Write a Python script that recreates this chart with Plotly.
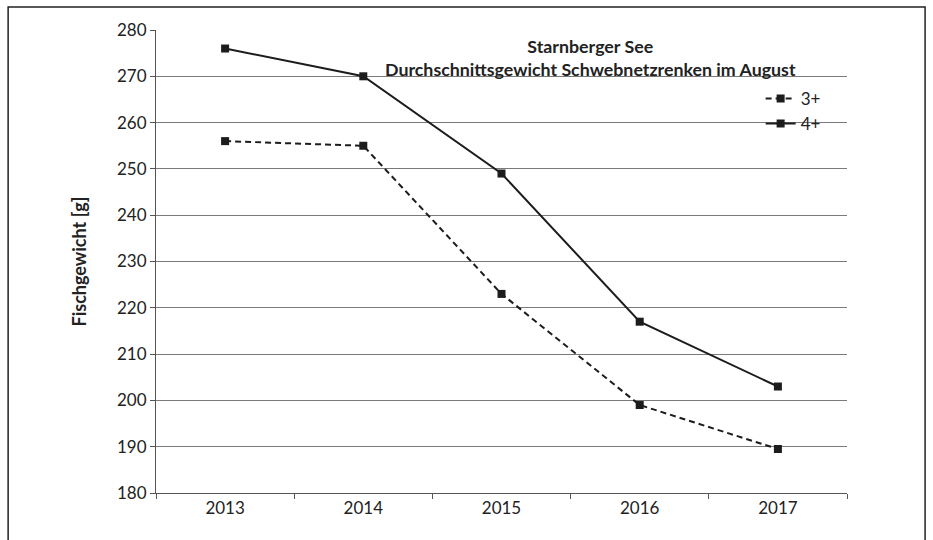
import plotly.graph_objects as go

# Average weight of pelagic-net whitefish (Schwebnetzrenken), Starnberger See, August
years = ["2013", "2014", "2015", "2016", "2017"]
weight_3plus = [256, 255, 223, 199, 189.5]
weight_4plus = [276, 270, 249, 217, 203]

ink = "#1c1c1c"
font_family = "Lato, Carlito, 'Open Sans', sans-serif"

fig = go.Figure()
fig.add_trace(go.Scatter(
    x=years, y=weight_3plus, name="3+", mode="lines+markers",
    line=dict(color=ink, width=2, dash="6px,4px"),
    marker=dict(symbol="square", size=8, color=ink),
))
fig.add_trace(go.Scatter(
    x=years, y=weight_4plus, name="4+", mode="lines+markers",
    line=dict(color=ink, width=2),
    marker=dict(symbol="square", size=8, color=ink),
))

fig.update_layout(
    width=933, height=540,
    margin=dict(l=156, r=86, t=30, b=47),
    paper_bgcolor="white", plot_bgcolor="white",
    font=dict(family=font_family, size=17, color="#222"),
    showlegend=True,
    legend=dict(
        x=0.875, y=0.89, xanchor="left", yanchor="top",
        bgcolor="rgba(0,0,0,0)", font=dict(size=17),
        itemwidth=30, tracegroupgap=0,
    ),
    annotations=[dict(
        text="<b>Starnberger See</b><br><b>Durchschnittsgewicht Schwebnetzrenken im August</b>",
        xref="paper", yref="paper", x=0.6295, y=0.993,
        xanchor="center", yanchor="top", showarrow=False,
        font=dict(size=17.8, color="#222"), align="center",
    )],
    shapes=[dict(
        type="rect", xref="paper", yref="paper",
        x0=-0.214, x1=1.113, y0=-0.2, y1=1.0497,
        line=dict(color="#222", width=1.5), fillcolor="rgba(0,0,0,0)",
        layer="below",
    )],
)

fig.update_xaxes(
    type="category", range=[-0.5, 4.5], tickson="boundaries",
    ticks="outside", ticklen=5,
    tickcolor="#555", showline=True, linecolor="#555", linewidth=1,
    showgrid=False, tickfont=dict(size=17),
)
fig.update_yaxes(
    range=[180, 280], dtick=10, ticks="outside", ticklen=5,
    tickcolor="#555", showline=True, linecolor="#555", linewidth=1,
    showgrid=True, gridcolor="#7a7a7a", gridwidth=1,
    tickfont=dict(size=17),
    title=dict(text="<b>Fischgewicht [g]</b>", font=dict(size=18), standoff=25),
)

fig.write_html("out.html")
